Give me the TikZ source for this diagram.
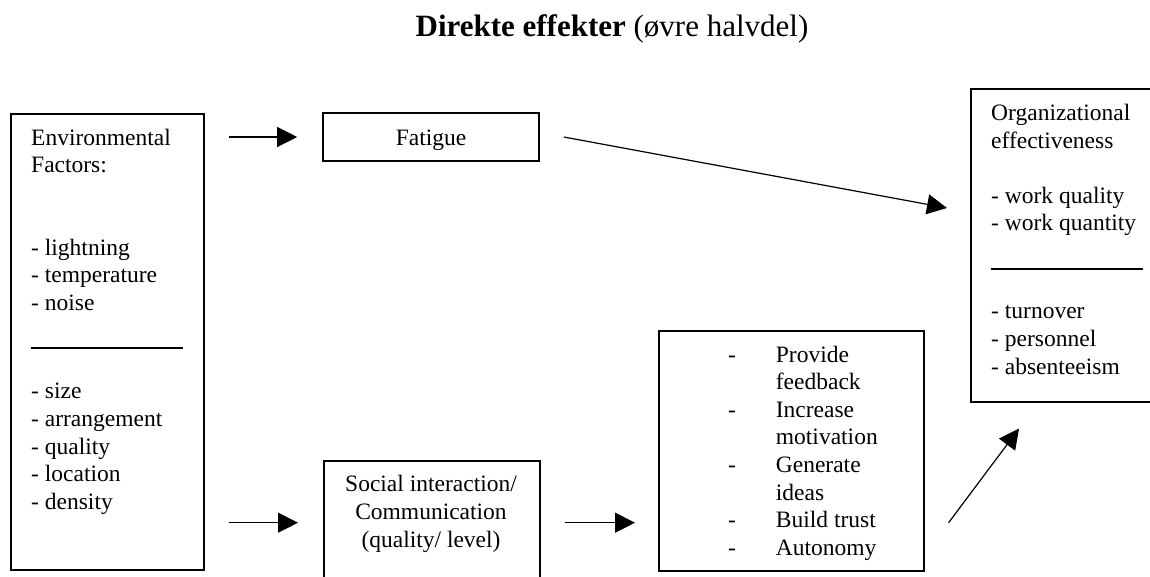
\documentclass[tikz,border=0pt]{standalone}
\usepackage{fontspec}
\setmainfont{Liberation Serif}
\usetikzlibrary{arrows.meta}

\begin{document}
\begin{tikzpicture}[x=1pt, y=-1pt,
    box/.style={draw, line width=1.6pt, inner sep=0pt, font=\fontsize{23.5}{27.6}\selectfont},
    txt/.style={inner sep=0pt, anchor=base west, align=left, font=\fontsize{23.5}{27.6}\selectfont},
    rule/.style={line width=1.5pt},
    arr/.style={-{Triangle[length=20pt, width=20pt]}, line width=1.2pt}
]
    \clip (0,0) rectangle (1150,576);

    \node[anchor=base, inner sep=0pt, font=\fontsize{31}{36}\selectfont] (title) at (612,36.7) {\textbf{Direkte effekter} (øvre halvdel)};

    % boxes
    \node[box, anchor=north west, minimum width=193pt, minimum height=456pt] (env) at (10,113) {};
    \node[box, minimum width=216pt, minimum height=48pt, text height=16pt, text depth=0pt] (fat) at (431,137) {Fatigue};
    \node[box, anchor=north west, minimum width=216pt, minimum height=140pt] (soc) at (323,460) {};
    \node[box, anchor=north west, minimum width=265pt, minimum height=240pt] (ben) at (658,330) {};
    \node[box, anchor=north west, minimum width=200pt, minimum height=313pt] (org) at (970,88) {};

    % texts in the boxes (placed at the baseline of their last line)
    \node[txt] (envtop) at (31,172.6) {Environmental\\Factors:};
    \node[txt] (envphys) at (31,310.5) {- lightning\\- temperature\\- noise};
    \node[txt] (envspace) at (31,509.3) {- size\\- arrangement\\- quality\\- location\\- density};
    \draw[rule] (31,348) -- (183,348);

    \node[txt, anchor=base, align=center] (soctxt) at (431,547) {Social interaction/\\Communication\\(quality/ level)};

    \node[txt] (bentxt) at (728,555.3) {\makebox[47.7pt][l]{-}Provide\\\hspace*{47.7pt}feedback\\\makebox[47.7pt][l]{-}Increase\\\hspace*{47.7pt}motivation\\\makebox[47.7pt][l]{-}Generate\\\hspace*{47.7pt}ideas\\\makebox[47.7pt][l]{-}Build trust\\\makebox[47.7pt][l]{-}Autonomy};

    \node[txt] (orgtop) at (991,148.3) {Organizational\\effectiveness};
    \node[txt] (orgwork) at (991,230.7) {- work quality\\- work quantity};
    \node[txt] (orgpers) at (991,374) {- turnover\\- personnel\\- absenteeism};
    \draw[rule] (991,269) -- (1142.7,269);

    % arrows
    \coordinate (lowrow) at (0,522.7);
    \draw[arr, shorten <=24pt, shorten >=25pt] (env.east |- fat.west) -- (fat.west);
    \draw[arr, shorten <=24pt, shorten >=25pt] (env.east |- lowrow) -- (soc.west |- lowrow);
    \draw[arr, shorten <=24pt, shorten >=23pt] (soc.east |- lowrow) -- (ben.west |- lowrow);
    \draw[arr] ([xshift=24pt]fat.east) -- ([xshift=-23pt, yshift=-120pt]org.north west);
    \draw[arr] ([xshift=24pt]ben.east |- lowrow) -- ([xshift=49pt, yshift=-26pt]org.south west);
\end{tikzpicture}
\end{document}
